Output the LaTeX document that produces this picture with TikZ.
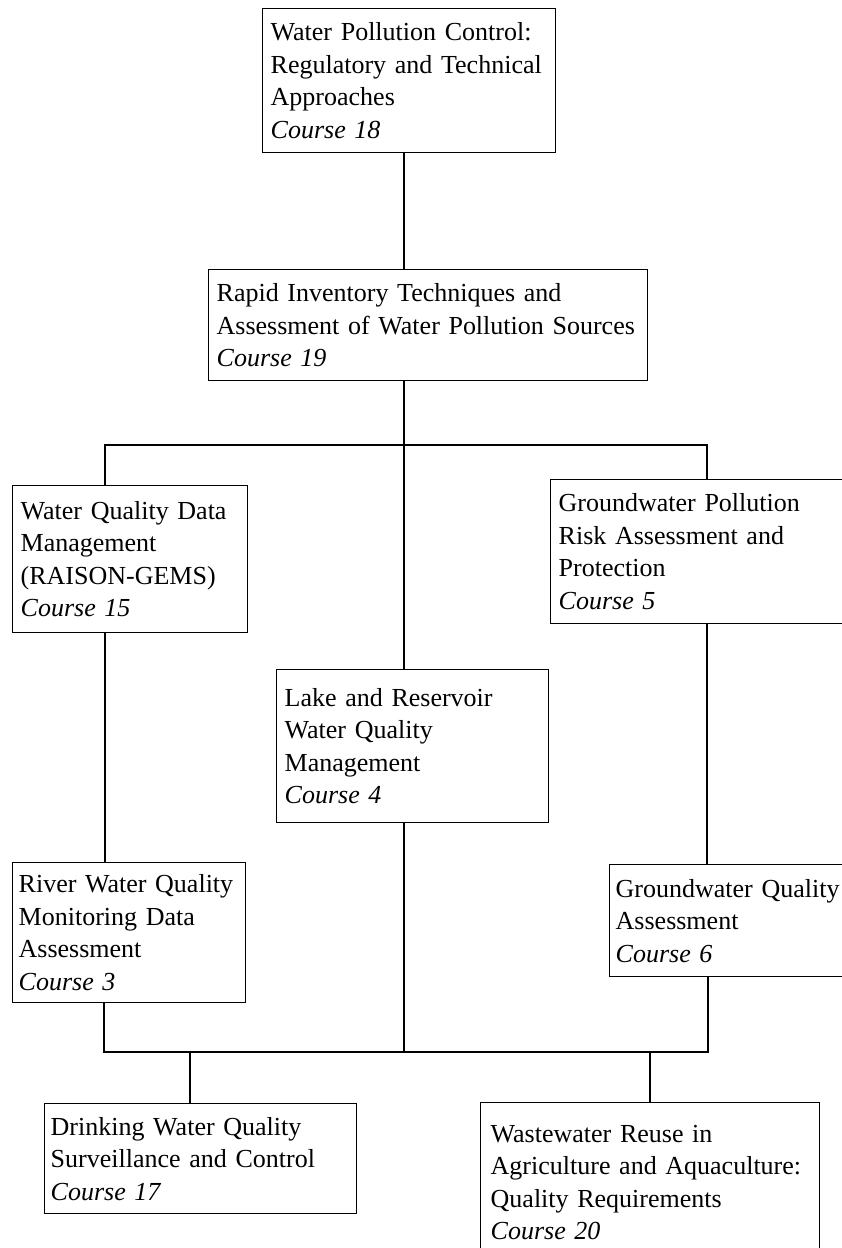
\documentclass[tikz,border=0pt]{standalone}
\usepackage{fontspec}
\setmainfont{Liberation Serif}
\usepackage{tikz}

\begin{document}
\begin{tikzpicture}[
  x=1pt, y=-1pt,
  course/.style={draw, line width=1.4pt, rectangle, anchor=north west, align=left,
    inner xsep=8pt, inner ysep=0pt, font=\fontsize{26}{32.5}\selectfont},
  link/.style={line width=1.5pt}
]
\clip (0,0) rectangle (842,1248);

% ======================================================
% =============== TOP COURSES ==========================
% ======================================================
\node (c18) [course, text width=277pt, minimum height=144pt] at (262,8)
  {Water Pollution Control:\\Regulatory and Technical\\Approaches\\\textit{Course 18}};
\node (c19) [course, text width=423pt, minimum height=111pt] at (208,269)
  {Rapid Inventory Techniques and\\Assessment of Water Pollution Sources\\\textit{Course 19}};

% ======================================================
% =============== MIDDLE COURSES =======================
% ======================================================
\node (c15) [course, text width=219pt, minimum height=147pt] at (12,485)
  {Water Quality Data\\Management\\(RAISON-GEMS)\\\textit{Course 15}};
\node (c5) [course, text width=294pt, minimum height=144pt] at (550,479)
  {Groundwater Pollution\\Risk Assessment and\\Protection\\\textit{Course 5}};
\node (c4) [course, text width=256pt, minimum height=153pt] at (276,669)
  {Lake and Reservoir\\Water Quality\\Management\\\textit{Course 4}};
\node (c3) [course, inner xsep=6pt, text width=221pt, minimum height=140pt] at (12,862)
  {River Water Quality\\Monitoring Data\\Assessment\\\textit{Course 3}};
\node (c6) [course, inner xsep=6pt, text width=248pt, minimum height=112pt] at (609,864)
  {Groundwater Quality\\Assessment\\\textit{Course 6}};

% ======================================================
% =============== BOTTOM COURSES =======================
% ======================================================
\node (c17) [course, inner xsep=6pt, text width=300pt, minimum height=110pt] at (44,1103)
  {Drinking Water Quality\\Surveillance and Control\\\textit{Course 17}};
\node (c20) [course, inner xsep=10pt, text width=319pt, minimum height=160pt] at (480,1102)
  {Wastewater Reuse in\\Agriculture and Aquaculture:\\Quality Requirements\\\textit{Course 20}};

% junctions
\coordinate (j1) at (404,445);
\coordinate (bl) at (105,445);
\coordinate (br) at (707,445);
\coordinate (j2) at (404,1052);
\coordinate (dl) at (104,1052);
\coordinate (dr) at (708,1052);
\coordinate (d17) at (190,1052);

% connectors
\draw[link] (c18.south -| j1) -- (c19.north -| j1);
\draw[link] (c19.south -| j1) -- (j1);
\draw[link] (c15.north -| bl) |- (br) -- (c5.north -| br);
\draw[link] (j1) -- (c4.north -| j1);
\draw[link] (c15.south -| bl) -- (c3.north -| bl);
\draw[link] (c5.south -| br) -- (c6.north -| br);
\draw[link] (c3.south -| dl) |- (dr) -- (c6.south -| dr);
\draw[link] (c4.south -| j2) -- (j2);
\draw[link] (d17) -- (d17 |- c17.north);
\draw[link] (c20.north |- j2) -- (c20.north);
\end{tikzpicture}
\end{document}
